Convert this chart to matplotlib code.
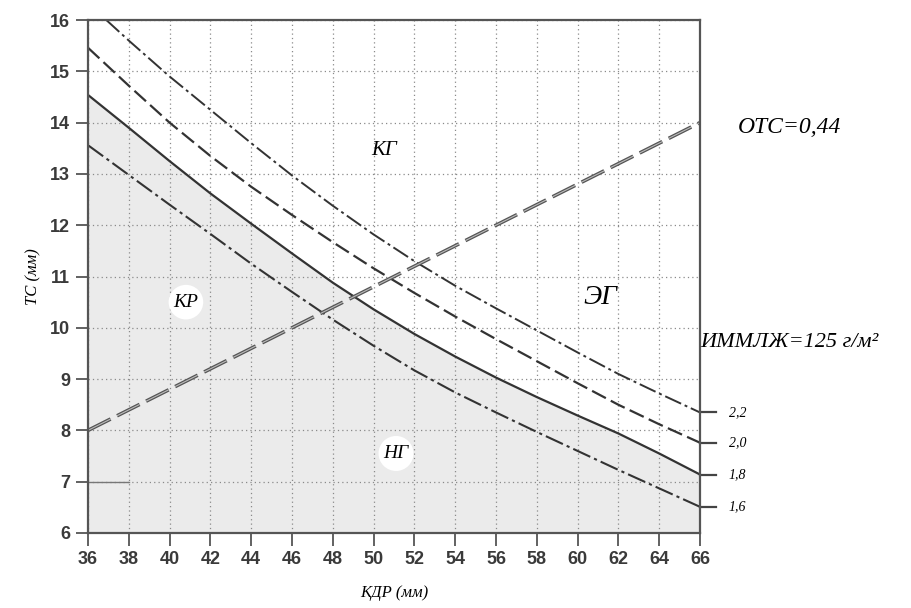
import matplotlib.pyplot as plt
import matplotlib.ticker as ticker

# КДР (мм) positions at which curves were read
kdr = [36, 38, 40, 42, 44, 46, 48, 50, 52, 54, 56, 58, 60, 62, 64, 66]

# ТС (мм) for each ИММЛЖ curve
kdr_22 = [36.9, 38, 40, 42, 44, 46, 48, 50, 52, 54, 56, 58, 60, 62, 64, 66]
ts_22 = [16.0, 15.6, 14.9, 14.25, 13.6, 12.97, 12.38, 11.82, 11.3, 10.82, 10.38, 9.95, 9.52, 9.1, 8.72, 8.35]
ts_20 = [15.46, 14.72, 14.0, 13.35, 12.75, 12.2, 11.67, 11.16, 10.68, 10.22, 9.78, 9.35, 8.92, 8.5, 8.12, 7.76]
ts_18 = [14.54, 13.9, 13.25, 12.62, 12.03, 11.45, 10.88, 10.36, 9.88, 9.44, 9.03, 8.65, 8.29, 7.94, 7.55, 7.14]
ts_16 = [13.56, 12.98, 12.4, 11.83, 11.25, 10.7, 10.16, 9.65, 9.17, 8.74, 8.35, 7.97, 7.6, 7.23, 6.87, 6.51]

# ОТС = 0,44 boundary (ЭГ)
otc_x = [36, 66]
otc_y = [8.0, 14.0]

# short scan mark at ТС = 7
mark_x = [36, 38]
mark_y = [7.0, 7.0]

curve_labels = ['2,2', '2,0', '1,8', '1,6']

fig = plt.figure(figsize=(9.12, 6.08), dpi=100)
fig.set_facecolor('white')
ax = fig.add_axes([0.0965, 0.1234, 0.671, 0.8436])

line_col = '#333333'
ax.fill_between(kdr, ts_18, 6, color='#ebebeb', zorder=0)

ax.plot(kdr_22, ts_22, color=line_col, lw=1.4, dashes=(9, 2, 1.5, 2))
ax.plot(kdr, ts_20, color=line_col, lw=1.6, dashes=(7, 2.5))
ax.plot(kdr, ts_18, color=line_col, lw=1.6)
ax.plot(kdr, ts_16, color=line_col, lw=1.5, dashes=(9, 2, 1.5, 2))

# double-stroke long dashes
ax.plot(otc_x, otc_y, color='#555555', lw=2.6, dashes=(7, 2))
ax.plot(otc_x, otc_y, color='#bbbbbb', lw=0.8, dashes=(22.75, 6.5))
ax.plot(mark_x, mark_y, color='#777777', lw=1.0)

ax.set_xlim(36, 66)
ax.set_ylim(6, 16)
ax.xaxis.set_major_locator(ticker.MultipleLocator(2))
ax.yaxis.set_major_locator(ticker.MultipleLocator(1))
ax.grid(color='#8a8a8a', linestyle=(0, (1, 2.5)), lw=0.9)
ax.set_axisbelow(True)

for s in ax.spines.values():
    s.set_color('#555555')
    s.set_linewidth(1.6)
ax.tick_params(direction='out', length=9, width=1.3, color='#555555', pad=4)
for lab in ax.get_xticklabels() + ax.get_yticklabels():
    lab.set_fontfamily('Liberation Sans')
    lab.set_fontweight('bold')
    lab.set_fontsize(13)
    lab.set_color('#3a3a3a')

serif = 'Liberation Serif'
ax.set_xlabel('КДР (мм)', fontsize=12, fontfamily=serif, style='italic', labelpad=12)
ax.set_ylabel('ТС (мм)', fontsize=12, fontfamily=serif, style='italic', labelpad=6)

# region labels
ax.text(50.5, 13.45, 'КГ', fontsize=15, fontfamily=serif, style='italic', ha='center', va='center')
ax.text(61.1, 10.6, 'ЭГ', fontsize=20, fontfamily=serif, style='italic', ha='center', va='center')
ax.text(40.8, 10.5, 'КР', fontsize=14, fontfamily=serif, style='italic', ha='center', va='center',
        bbox=dict(boxstyle='circle,pad=0.25', fc='white', ec='none'))
ax.text(51.1, 7.55, 'НГ', fontsize=14, fontfamily=serif, style='italic', ha='center', va='center',
        bbox=dict(boxstyle='circle,pad=0.25', fc='white', ec='none'))

# curve end marks and labels on the right
ends = [ts_22[-1], ts_20[-1], ts_18[-1], ts_16[-1]]
for y, lab in zip(ends, curve_labels):
    ax.plot([66, 66.8], [y, y], color='#444444', lw=1.6, clip_on=False)
    ax.text(67.4, y, lab, fontsize=10, fontfamily=serif, style='italic', va='center', ha='left')

fig.text(0.866, 0.79, 'ОТС=0,44', fontsize=17, fontfamily=serif, style='italic', ha='center', va='center')
fig.text(0.768, 0.437, 'ИММЛЖ=125 г/м²', fontsize=16, fontfamily=serif, style='italic', ha='left', va='center')

fig.savefig('out.png', dpi=100, facecolor='white')
